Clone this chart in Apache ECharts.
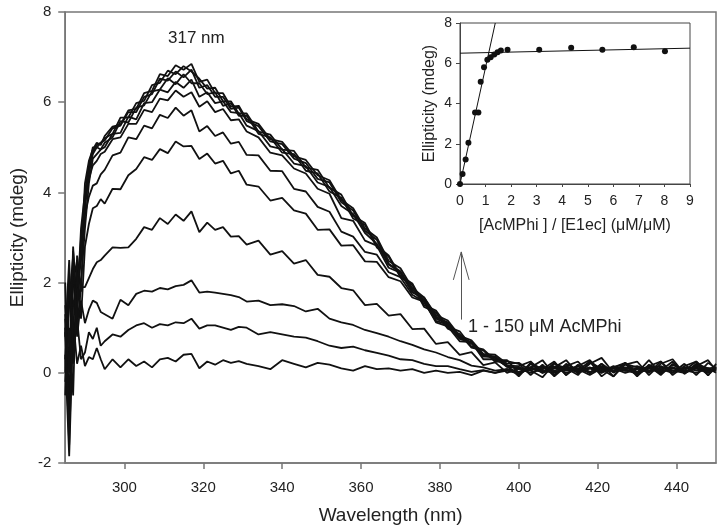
<!DOCTYPE html>
<html>
<head>
<meta charset="utf-8">
<script src="https://cdn.jsdelivr.net/npm/echarts@6/dist/echarts.min.js"></script>
<style>html,body{margin:0;padding:0;background:#fff}#c{width:726px;height:532px}</style>
</head>
<body>
<div id="c"></div>
<script>
// ---- main spectra (wavelength grid shared by all spectra) ----
const wavelengths = [285,286,287,288,289,290,291,292,293,294,295,297,299,301,303,305,307,309,311,313,315,317,319,321,323,325,327,329,331,334,337,340,343,346,349,352,355,358,361,364,367,370,373,376,379,382,385,388,391,394,397,400,403,406,409,412,415,418,421,424,427,430,433,436,439,442,445,448,450];
const xTicks = [300,320,340,360,380,400,420,440];

const specA = [0.9,-0.4,1.2,0.2,0.6,0.15,0.35,0.3,0.55,0.3,0.08,0.3,0.12,0.3,0.15,0.25,0.12,0.3,0.33,0.25,0.4,0.42,0.1,0.25,0.18,0.28,0.22,0.26,0.2,0.15,0.08,0.28,0.2,0.12,0.22,0.18,0.1,0.05,0.15,0.08,0.1,0.05,0.08,0.0,0.05,0.0,0.02,-0.05,0.05,0.0,0.05,-0.02,0.1,0.02,0.12,0.0,0.08,-0.05,0.1,0.02,0.08,-0.03,0.1,0.0,0.12,0.03,0.1,0.0,0.12];
const specB = [0.3,1.8,0.5,1.2,0.3,0.45,0.9,0.75,1.0,0.6,0.7,0.85,0.8,0.95,1.05,1.1,1.0,1.08,1.05,1.12,1.1,1.2,0.98,1.05,1.05,1.0,0.95,1.02,1.0,0.85,0.9,0.85,0.8,0.78,0.7,0.6,0.55,0.58,0.5,0.44,0.38,0.3,0.28,0.2,0.15,0.15,0.08,0.02,0.06,0.0,0.08,0.02,0.12,0.05,0.0,0.1,0.03,0.1,0.0,0.12,0.04,0.1,0.02,0.12,0.05,0.0,0.1,0.05,0.08];
const specC = [1.5,0.2,2.3,0.8,1.6,1.1,1.4,1.6,1.55,1.35,1.3,1.2,1.62,1.5,1.75,1.82,1.8,1.88,1.85,1.92,1.95,2.05,1.78,1.8,1.78,1.75,1.72,1.68,1.58,1.6,1.5,1.52,1.48,1.36,1.42,1.2,1.12,1.06,0.95,0.88,0.8,0.7,0.62,0.52,0.45,0.35,0.28,0.16,0.12,0.05,0.08,0.0,0.08,0.12,0.02,0.08,0.14,0.02,0.06,0.1,0.0,0.08,0.12,0.03,0.1,0.06,0.0,0.1,0.05];
const specD = [-0.5,1.5,2.6,1.0,1.9,1.9,2.1,2.3,2.45,2.5,2.6,2.78,2.77,2.78,2.97,3.23,3.17,3.43,3.3,3.51,3.37,3.58,3.12,3.33,3.17,3.23,3.02,3.03,2.84,2.93,2.62,2.7,2.42,2.5,2.17,2.13,1.88,1.83,1.5,1.53,1.27,1.3,0.97,0.98,0.64,0.68,0.4,0.46,0.17,0.23,0.0,0.1,0.0,0.08,0.14,0.05,0.1,0.0,0.12,0.05,0.1,0.15,0.05,0.08,0.0,0.12,0.05,0.1,0.12];
const specE = [1.2,-1.0,2.0,2.5,1.2,2.8,3.3,3.65,3.7,3.85,3.75,4.08,4.07,4.38,4.52,4.78,4.72,4.96,4.87,5.13,5.02,5.03,4.74,4.86,4.64,4.7,4.42,4.48,4.17,4.13,3.82,3.88,3.6,3.53,3.17,3.18,2.82,2.83,2.47,2.46,2.12,2.03,1.67,1.58,1.12,1.03,0.7,0.68,0.3,0.3,0.15,0.08,0.12,0.0,0.1,0.15,0.05,0.12,0.02,0.15,0.05,0.0,0.1,0.15,0.05,0.1,0.12,0.02,0.1];
const specF = [0.0,2.2,0.5,1.8,2.5,3.5,3.9,4.15,4.2,4.4,4.5,4.82,4.88,5.22,5.18,5.48,5.42,5.72,5.65,5.88,5.7,5.82,5.35,5.47,5.25,5.33,5.08,5.12,4.83,4.82,4.48,4.47,4.08,4.02,3.68,3.57,3.13,3.02,2.68,2.62,2.23,2.12,1.73,1.57,1.15,1.07,0.75,0.67,0.36,0.35,0.13,0.12,0.05,0.15,0.05,0.12,0.0,0.1,0.15,0.05,0.12,0.02,0.15,0.08,0.12,0.0,0.15,0.08,0.05];
const specG = [2.0,-1.2,2.7,1.5,3.0,3.8,4.3,4.6,4.7,4.85,4.9,5.18,5.22,5.52,5.52,5.83,5.78,6.08,6.04,6.26,6.12,6.22,5.9,6.02,5.78,5.85,5.6,5.62,5.35,5.22,4.88,4.82,4.53,4.42,4.08,3.97,3.43,3.37,2.93,2.82,2.33,2.22,1.78,1.67,1.23,1.12,0.78,0.68,0.4,0.33,0.15,-0.05,0.22,0.08,0.25,-0.05,0.15,0.28,0.0,0.12,0.2,-0.08,0.18,0.05,0.25,-0.02,0.2,0.1,0.0];
const specH1 = [0.4,-1.85,1.0,2.2,2.0,3.2,4.2,4.75,4.85,4.95,5.0,5.3,5.32,5.68,5.62,5.98,6.0,6.28,6.22,6.45,6.32,6.5,6.12,6.22,5.98,6.02,5.78,5.76,5.48,5.36,5.02,4.96,4.64,4.58,4.22,4.12,3.7,3.52,3.1,2.86,2.4,2.22,1.8,1.6,1.2,1.08,0.78,0.65,0.38,0.34,0.16,-0.08,0.2,0.0,0.22,-0.05,0.18,0.0,0.2,-0.08,0.22,0.0,0.15,-0.05,0.2,0.0,0.18,-0.05,0.12];
const specH2 = [1.3,0.0,2.8,1.2,2.8,3.6,4.5,4.85,5.0,4.95,5.1,5.22,5.58,5.55,5.88,5.93,6.24,6.28,6.53,6.4,6.62,6.42,6.42,6.18,6.22,5.92,5.98,5.7,5.7,5.3,5.22,4.88,4.85,4.48,4.42,4.02,3.88,3.42,3.28,2.78,2.58,2.12,1.95,1.46,1.34,0.98,0.86,0.56,0.5,0.24,0.26,0.2,-0.05,0.18,-0.08,0.15,0.25,-0.02,0.2,0.02,0.22,-0.06,0.15,0.25,0.0,0.2,-0.05,0.22,0.1];
const specH3 = [-0.2,1.0,-0.5,2.6,1.8,3.9,4.4,4.9,5.05,5.1,5.15,5.42,5.48,5.78,5.78,6.12,6.18,6.52,6.48,6.68,6.55,6.72,6.32,6.38,6.12,6.12,5.85,5.88,5.58,5.47,5.13,5.07,4.75,4.65,4.3,4.22,3.78,3.6,3.15,2.95,2.42,2.25,1.84,1.62,1.24,1.1,0.8,0.66,0.4,0.36,0.16,0.15,0.25,0.0,0.12,0.28,-0.02,0.2,0.33,0.0,0.18,0.25,-0.05,0.2,0.3,-0.02,0.15,0.28,0.05];
const specH4 = [0.8,2.5,0.2,1.5,3.2,4.0,4.6,5.0,5.0,5.1,5.2,5.3,5.66,5.66,5.98,6.03,6.38,6.43,6.7,6.62,6.8,6.68,6.52,6.3,6.32,6.02,6.02,5.75,5.75,5.35,5.28,4.95,4.92,4.55,4.5,4.1,3.95,3.48,3.32,2.82,2.6,2.15,1.98,1.5,1.38,1.02,0.92,0.58,0.52,0.28,0.28,0.0,0.12,0.28,-0.05,0.2,0.05,0.25,-0.08,0.12,0.22,0.0,0.28,-0.02,0.18,0.05,0.25,-0.06,0.2];
const specH5 = [1.0,-1.6,1.5,2.0,2.6,4.2,4.7,4.95,5.1,5.05,5.25,5.46,5.5,5.82,5.85,6.2,6.25,6.62,6.58,6.82,6.72,6.85,6.45,6.5,6.2,6.2,5.9,5.92,5.62,5.52,5.18,5.12,4.8,4.72,4.38,4.27,3.83,3.65,3.2,3.0,2.48,2.32,1.88,1.67,1.28,1.16,0.82,0.72,0.42,0.4,0.2,0.22,0.05,-0.1,0.2,0.1,-0.05,0.25,0.08,-0.08,0.2,0.12,0.0,0.25,-0.05,0.15,0.25,0.02,0.12];

const spectra = [specA, specB, specC, specD, specE, specF, specG, specH1, specH2, specH3, specH4, specH5];

// ---- inset titration data ----
const insetRatio = [0,0.1,0.22,0.33,0.59,0.72,0.81,0.94,1.07,1.2,1.34,1.47,1.6,1.86,3.1,4.35,5.57,6.8,8.02];
const insetEllip = [0,0.5,1.22,2.05,3.55,3.55,5.08,5.8,6.17,6.3,6.43,6.55,6.63,6.67,6.67,6.77,6.67,6.8,6.6];
const fitSteepX = [0, 1.38];
const fitSteepY = [0, 8];
const fitFlatX = [0, 9];
const fitFlatY = [6.5, 6.75];

// ---- annotation (data units) ----
const arrowX = 385.4;
const arrowY = [1.18, 2.68];
const arrowHeadDx = 2.0;
const arrowHeadY = 2.06;

const pair = (xs, ys) => xs.map((x, i) => [x, ys[i]]);
const txt = '#222';
const font = '"Liberation Sans", Arial, sans-serif';

const series = spectra.map((s, k) => ({
  type: 'line', xAxisIndex: 0, yAxisIndex: 0,
  data: pair(wavelengths, s),
  showSymbol: false, symbol: 'none', silent: true,
  lineStyle: { color: '#111', width: 1.8 },
  animation: false, z: 2,
  markLine: k === 0 ? {
    symbol: ['none', 'none'], silent: true, animation: false,
    label: { show: false },
    lineStyle: { color: '#555', width: 1, type: 'solid' },
    data: [
      [{ coord: [arrowX, arrowY[0]] }, { coord: [arrowX, arrowY[1]] }],
      [{ coord: [arrowX - arrowHeadDx, arrowHeadY] }, { coord: [arrowX, arrowY[1]] }],
      [{ coord: [arrowX + arrowHeadDx, arrowHeadY] }, { coord: [arrowX, arrowY[1]] }]
    ]
  } : undefined
}));

series.push({
  type: 'line', xAxisIndex: 1, yAxisIndex: 1, data: pair(fitSteepX, fitSteepY),
  showSymbol: false, symbol: 'none', lineStyle: { color: '#111', width: 1 }, animation: false, z: 5
});
series.push({
  type: 'line', xAxisIndex: 1, yAxisIndex: 1, data: pair(fitFlatX, fitFlatY),
  showSymbol: false, symbol: 'none', lineStyle: { color: '#111', width: 1 }, animation: false, z: 5
});
series.push({
  type: 'scatter', xAxisIndex: 1, yAxisIndex: 1, data: pair(insetRatio, insetEllip),
  symbol: 'circle', symbolSize: 6, itemStyle: { color: '#111', opacity: 1 }, animation: false, z: 6
});

const chart = echarts.init(document.getElementById('c'), null, { renderer: 'canvas' });
chart.setOption({
  backgroundColor: '#fff',
  animation: false,
  grid: [
    { left: 65, top: 12, right: 10, bottom: 69, show: true, borderColor: '#777', borderWidth: 1.5, backgroundColor: 'transparent' },
    { left: 460, top: 23, width: 230, height: 161, show: true, borderColor: '#444', borderWidth: 1, backgroundColor: '#fff' }
  ],
  xAxis: [
    {
      gridIndex: 0, type: 'value', min: 285, max: 450,
      name: 'Wavelength (nm)', nameLocation: 'middle', nameGap: 43,
      nameTextStyle: { fontFamily: font, fontSize: 19, color: txt },
      axisLine: { onZero: false, lineStyle: { color: '#777', width: 1.5 } },
      axisTick: { show: true, inside: false, length: 6, customValues: xTicks, lineStyle: { color: '#777', width: 1.5 } },
      axisLabel: { customValues: xTicks, margin: 17, fontFamily: font, fontSize: 15, color: txt },
      splitLine: { show: false }
    },
    {
      gridIndex: 1, type: 'value', min: 0, max: 9, interval: 1,
      name: '[AcMPhi ] / [E1ec] (\u03bcM/\u03bcM)', nameLocation: 'middle', nameGap: 34,
      nameTextStyle: { fontFamily: font, fontSize: 16, color: txt },
      axisLine: { onZero: false, lineStyle: { color: '#444', width: 1 } },
      axisTick: { show: true, length: 3, lineStyle: { color: '#444' } },
      axisLabel: { margin: 10, fontFamily: font, fontSize: 14, color: txt },
      splitLine: { show: false }
    }
  ],
  yAxis: [
    {
      gridIndex: 0, type: 'value', min: -2, max: 8, interval: 2,
      name: 'Ellipticity (mdeg)', nameLocation: 'middle', nameGap: 38, nameRotate: 90,
      nameTextStyle: { fontFamily: font, fontSize: 19, color: txt },
      axisLine: { onZero: false, lineStyle: { color: '#777', width: 1.5 } },
      axisTick: { show: true, length: 7, lineStyle: { color: '#777', width: 1.5 } },
      axisLabel: { margin: 14, fontFamily: font, fontSize: 15, color: txt },
      splitLine: { show: false }
    },
    {
      gridIndex: 1, type: 'value', min: 0, max: 8, interval: 2,
      name: 'Ellipticity (mdeg)', nameLocation: 'middle', nameGap: 22, nameRotate: 90,
      nameTextStyle: { fontFamily: font, fontSize: 16, color: txt },
      axisLine: { onZero: false, lineStyle: { color: '#444', width: 1 } },
      axisTick: { show: true, length: 4, lineStyle: { color: '#444' } },
      axisLabel: { margin: 8, fontFamily: font, fontSize: 14, color: txt },
      splitLine: { show: false }
    }
  ],
  graphic: [
    { type: 'text', left: 168, top: 30, z: 20, style: { text: '317 nm', font: '17px ' + font, fill: txt } },
    { type: 'text', left: 468, top: 318, z: 20, style: { text: '1 - 150 \u03bcM AcMPhi', font: '18px ' + font, fill: txt } }
  ],
  series: series
});
</script>
</body>
</html>
